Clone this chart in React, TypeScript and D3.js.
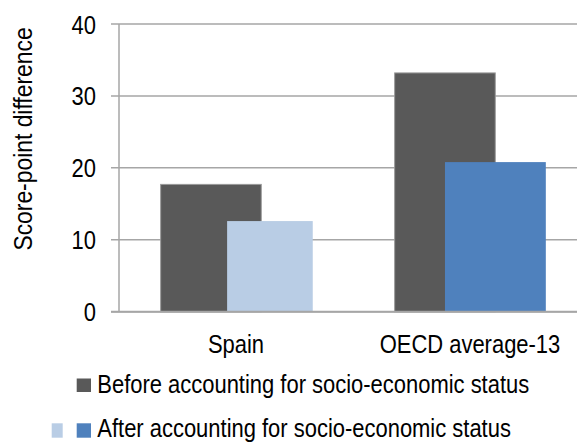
import React from "react";
import * as d3 from "d3";

const categories = ["Spain", "OECD average-13"];
const beforeValues = [17.7, 33.2];
const afterValues = [12.6, 20.8];
const afterColors = ["#B9CDE5", "#4F81BD"];
const beforeColor = "#595959";
const yTicks = [0, 10, 20, 30, 40];
const yLabel = "Score-point difference";
const legendBefore = "Before accounting for socio-economic status";
const legendAfter = "After accounting for socio-economic status";

// layout (fractions of each category band) for the overlapping bars
const beforeLayout = { offset: 0.178, width: 0.43 };
const afterLayout = [
  { offset: 0.462, width: 0.366 },
  { offset: 0.393, width: 0.431 },
];

const W = 577;
const H = 443;
const FONT = "'Liberation Sans', Arial, sans-serif";
const SX = 0.845;
const FS = 26;

function T({
  x,
  y,
  anchor = "start",
  rotate = 0,
  sx = SX,
  fs = FS,
  children,
}: {
  x: number;
  y: number;
  anchor?: "start" | "middle" | "end";
  rotate?: number;
  sx?: number;
  fs?: number;
  children: React.ReactNode;
}) {
  return (
    <g transform={`translate(${x},${y}) rotate(${rotate}) scale(${sx},1)`}>
      <text x={0} y={0} textAnchor={anchor} fontSize={fs} fill="#000">
        {children}
      </text>
    </g>
  );
}

export default function App() {
  const left = 119;
  const right = 587;
  const top = 24;
  const bottom = 311.7;

  const x = d3.scaleBand<string>().domain(categories).range([left, right]).padding(0);
  const y = d3.scaleLinear().domain([0, 40]).range([bottom, top]);
  const bw = x.bandwidth();
  const grid = "#A6A6A6";

  return (
    <svg
      width={W}
      height={H}
      style={{ position: "absolute", left: 0, top: 0, background: "#fff" }}
      fontFamily={FONT}
    >
      {yTicks.map((t) => (
        <g key={t}>
          <line x1={111} x2={W} y1={y(t)} y2={y(t)} stroke={grid} strokeWidth={1.5} />
          <T x={96} y={y(t) + 9.5} anchor="end">
            {t}
          </T>
        </g>
      ))}
      <line x1={left} x2={left} y1={top} y2={bottom} stroke={grid} strokeWidth={1.5} />

      {categories.map((c, i) => {
        const x0 = x(c)!;
        const bx = x0 + beforeLayout.offset * bw;
        const ax = x0 + afterLayout[i].offset * bw;
        return (
          <g key={c}>
            <rect
              x={bx}
              y={y(beforeValues[i])}
              width={beforeLayout.width * bw}
              height={bottom - y(beforeValues[i])}
              fill={beforeColor}
              stroke="#9a9a9a"
              strokeWidth={1}
            />
            <rect
              x={ax}
              y={y(afterValues[i])}
              width={afterLayout[i].width * bw}
              height={bottom - y(afterValues[i])}
              fill={afterColors[i]}
            />
            <T x={x0 + bw / 2} y={353.3} anchor="middle">
              {c}
            </T>
          </g>
        );
      })}
      <line x1={111} x2={W} y1={bottom} y2={bottom} stroke={grid} strokeWidth={2} />

      <T x={32} y={139} anchor="middle" rotate={-90} sx={0.88}>
        {yLabel}
      </T>

      <rect x={76.7} y={378.5} width={14.3} height={13.5} fill={beforeColor} />
      <T x={97.3} y={392.7}>{legendBefore}</T>
      <rect x={51.7} y={423.3} width={11} height={14.4} fill={afterColors[0]} />
      <rect x={76.7} y={423.3} width={14.3} height={14.4} fill={afterColors[1]} />
      <T x={97.3} y={437}>{legendAfter}</T>
    </svg>
  );
}
